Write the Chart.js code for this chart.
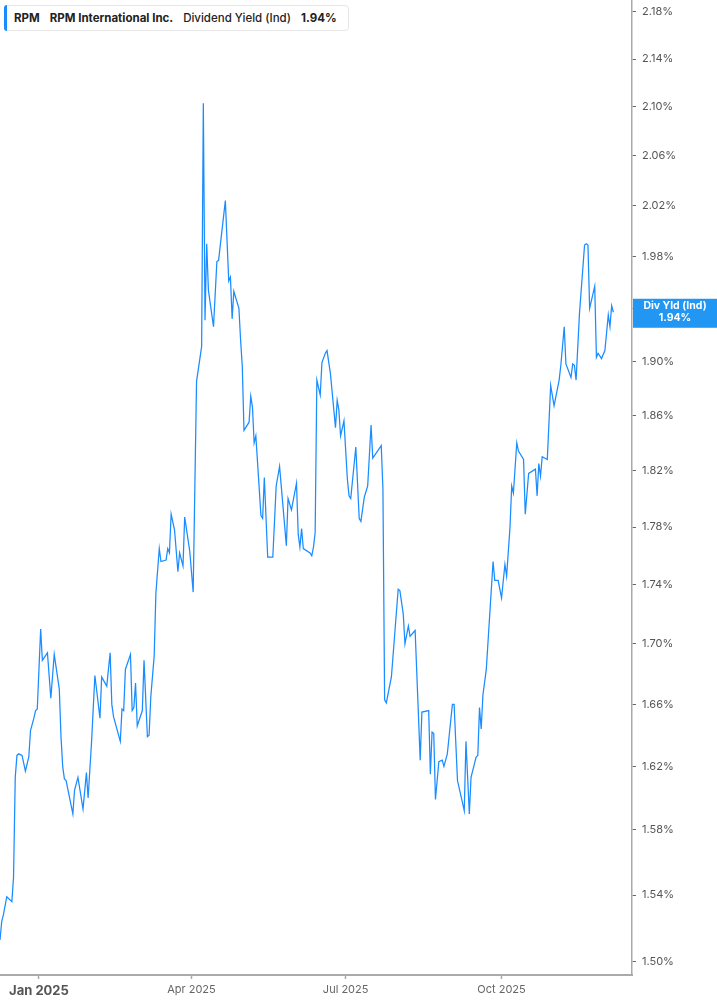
<!DOCTYPE html>
<html>
<head>
<meta charset="utf-8">
<script src="https://cdn.jsdelivr.net/npm/chart.js@4.4.1/dist/chart.umd.min.js"></script>
<style>
  html, body { margin: 0; padding: 0; background: #ffffff; }
  #wrap { position: relative; width: 717px; height: 1005px; }
  #legend {
    position: absolute; left: 4px; top: 5px; height: 26px; width: 345px;
    box-sizing: border-box; border: 1px solid #e6e6e6; border-radius: 4px;
    background: #fff; font-family: Inter, "Noto Sans", sans-serif; font-size: 11.5px;
    color: #222; display: flex; align-items: center; padding-left: 9px; white-space: nowrap;
  }
  #legend .bar { position: absolute; left: -1px; top: -1px; bottom: -1px; width: 3px; background: #1a8cff; border-radius: 3px 0 0 3px; }
  #legend span { margin-right: 10px; }
  #legend .b { font-weight: 700; }
  #legend .m { font-weight: 500; }
</style>
</head>
<body>
<div id="wrap">
  <canvas id="c" width="717" height="1005"></canvas>
  <div id="legend"></div>
</div>
<script>
const ticker = "RPM";
const companyName = "RPM International Inc.";
const metricName = "Dividend Yield (Ind)";
const axisTagName = "Div Yld (Ind)";

const dates = [
"2024-12-09","2024-12-10","2024-12-11","2024-12-13","2024-12-16","2024-12-17","2024-12-18","2024-12-19","2024-12-20","2024-12-22",
"2024-12-24","2024-12-26","2024-12-27","2024-12-29","2024-12-30","2024-12-31","2025-01-02","2025-01-03","2025-01-06","2025-01-08",
"2025-01-10","2025-01-13","2025-01-14","2025-01-15","2025-01-16","2025-01-17","2025-01-21","2025-01-22","2025-01-24","2025-01-27",
"2025-01-29","2025-01-30","2025-02-01","2025-02-03","2025-02-06","2025-02-07","2025-02-10","2025-02-12","2025-02-13","2025-02-14",
"2025-02-18","2025-02-19","2025-02-20","2025-02-21","2025-02-24","2025-02-25","2025-02-26","2025-02-27","2025-02-28","2025-03-03",
"2025-03-04","2025-03-06","2025-03-07","2025-03-08","2025-03-10","2025-03-11","2025-03-13","2025-03-14","2025-03-17","2025-03-18",
"2025-03-19","2025-03-20","2025-03-22","2025-03-24","2025-03-25","2025-03-27","2025-03-28","2025-03-31","2025-04-02","2025-04-04",
"2025-04-07","2025-04-08","2025-04-09","2025-04-10","2025-04-11","2025-04-14","2025-04-16","2025-04-17","2025-04-21","2025-04-23",
"2025-04-24","2025-04-25","2025-04-26","2025-04-29","2025-04-30","2025-05-01","2025-05-02","2025-05-05","2025-05-06","2025-05-07",
"2025-05-08","2025-05-09","2025-05-12","2025-05-13","2025-05-14","2025-05-16","2025-05-19","2025-05-21","2025-05-23","2025-05-27",
"2025-05-28","2025-05-30","2025-06-02","2025-06-03","2025-06-04","2025-06-05","2025-06-06","2025-06-10","2025-06-11","2025-06-12",
"2025-06-13","2025-06-14","2025-06-16","2025-06-17","2025-06-19","2025-06-20","2025-06-22","2025-06-25","2025-06-26","2025-06-27",
"2025-06-28","2025-06-30","2025-07-02","2025-07-03","2025-07-04","2025-07-07","2025-07-09","2025-07-10","2025-07-12","2025-07-14",
"2025-07-16","2025-07-17","2025-07-22","2025-07-23","2025-07-24","2025-07-25","2025-07-28","2025-08-01","2025-08-02","2025-08-04",
"2025-08-05","2025-08-07","2025-08-08","2025-08-11","2025-08-14","2025-08-15","2025-08-19","2025-08-20","2025-08-21","2025-08-22",
"2025-08-23","2025-08-25","2025-08-27","2025-08-28","2025-08-30","2025-09-02","2025-09-03","2025-09-05","2025-09-09","2025-09-10",
"2025-09-12","2025-09-13","2025-09-16","2025-09-17","2025-09-18","2025-09-19","2025-09-20","2025-09-22","2025-09-24","2025-09-26",
"2025-09-27","2025-09-29","2025-10-01","2025-10-03","2025-10-04","2025-10-06","2025-10-07","2025-10-08","2025-10-10","2025-10-11",
"2025-10-14","2025-10-15","2025-10-17","2025-10-21","2025-10-22","2025-10-23","2025-10-24","2025-10-25","2025-10-28","2025-10-30",
"2025-11-01","2025-11-04","2025-11-05","2025-11-07","2025-11-08","2025-11-11","2025-11-12","2025-11-13","2025-11-14","2025-11-16",
"2025-11-19","2025-11-20","2025-11-21","2025-11-22","2025-11-25","2025-11-26","2025-11-27","2025-11-29","2025-12-01","2025-12-03",
"2025-12-04","2025-12-05","2025-12-06"
];

const yields = [
1.513,1.524,1.528,1.539,1.536,1.551,1.613,1.627,1.628,1.627,
1.617,1.626,1.643,1.651,1.656,1.657,1.710,1.689,1.694,1.664,
1.693,1.670,1.639,1.620,1.612,1.611,1.590,1.605,1.613,1.593,
1.616,1.600,1.635,1.679,1.651,1.678,1.672,1.694,1.660,1.652,
1.636,1.657,1.656,1.683,1.693,1.656,1.658,1.674,1.646,1.656,
1.689,1.639,1.640,1.665,1.692,1.734,1.765,1.756,1.757,1.765,
1.762,1.789,1.778,1.749,1.762,1.753,1.787,1.763,1.735,1.885,
1.911,2.103,1.931,1.990,1.954,1.926,1.976,1.977,2.024,1.961,
1.964,1.932,1.953,1.940,1.916,1.896,1.849,1.855,1.874,1.866,
1.840,1.845,1.788,1.786,1.815,1.759,1.759,1.809,1.823,1.767,
1.800,1.792,1.811,1.775,1.766,1.779,1.765,1.762,1.760,1.766,
1.776,1.886,1.875,1.899,1.906,1.908,1.891,1.851,1.871,1.864,
1.845,1.856,1.814,1.802,1.800,1.837,1.786,1.784,1.801,1.809,
1.853,1.829,1.838,1.807,1.663,1.661,1.678,1.737,1.736,1.720,
1.700,1.712,1.705,1.709,1.624,1.655,1.656,1.615,1.642,1.641,
1.599,1.623,1.624,1.620,1.628,1.660,1.660,1.611,1.592,1.636,
1.590,1.613,1.626,1.627,1.658,1.644,1.666,1.683,1.719,1.756,
1.743,1.743,1.731,1.754,1.746,1.780,1.809,1.804,1.840,1.834,
1.828,1.789,1.818,1.821,1.802,1.825,1.816,1.830,1.828,1.882,
1.867,1.886,1.897,1.926,1.898,1.888,1.898,1.897,1.886,1.936,
1.989,1.990,1.989,1.940,1.957,1.903,1.906,1.902,1.908,1.935,
1.926,1.942,1.937
];

const yTickValues = [1.50,1.54,1.58,1.62,1.66,1.70,1.74,1.78,1.82,1.86,1.90,1.94,1.98,2.02,2.06,2.10,2.14,2.18];
const xTickDates = ["2025-01-01","2025-04-01","2025-07-01","2025-10-01"];
const xTickLabels = ["Jan 2025","Apr 2025","Jul 2025","Oct 2025"];

const baseDate = Date.UTC(2025,0,1);
function dayOf(s){ const p = s.split('-').map(Number); return (Date.UTC(p[0],p[1]-1,p[2]) - baseDate)/86400000; }

const points = dates.map((d,i) => ({x: dayOf(d), y: yields[i]}));
const xTickDays = xTickDates.map(dayOf);
const lastVal = yields[yields.length-1];
const lineColor = '#1a8cff';

document.getElementById('legend').innerHTML =
  '<div class="bar"></div>' +
  '<span class="b">' + ticker + '</span>' +
  '<span class="b">' + companyName + '</span>' +
  '<span class="m">' + metricName + '</span>' +
  '<span class="b">' + lastVal.toFixed(2) + '%</span>';

const tagPlugin = {
  id: 'tag',
  afterDraw(chart) {
    const ctx = chart.ctx;
    const ys = chart.scales.y;
    const py = ys.getPixelForValue(lastVal) + 1;
    const x0 = chart.chartArea.right + 1;
    const w = chart.width - x0;
    const h = 29;
    ctx.save();
    ctx.fillStyle = '#2196f3';
    ctx.fillRect(x0, py - h/2, w, h);
    ctx.fillStyle = '#ffffff';
    ctx.font = 'bold 10.5px Inter, "Noto Sans", sans-serif';
    ctx.textAlign = 'center';
    ctx.textBaseline = 'middle';
    ctx.fillText(axisTagName, x0 + w/2, py - 7);
    ctx.fillText(lastVal.toFixed(2) + '%', x0 + w/2, py + 5);
    ctx.restore();
  }
};

new Chart(document.getElementById('c'), {
  type: 'line',
  data: {
    datasets: [{
      data: points,
      borderColor: lineColor,
      borderWidth: 1.25,
      pointRadius: 0,
      tension: 0,
      fill: false
    }]
  },
  options: {
    responsive: false,
    animation: false,
    devicePixelRatio: 1,
    layout: { padding: 0 },
    plugins: { legend: { display: false }, tooltip: { enabled: false } },
    scales: {
      x: {
        type: 'linear',
        position: 'bottom',
        min: -23,
        max: 350,
        bounds: 'data',
        afterBuildTicks: (s) => { s.ticks = xTickDays.map(v => ({value: v})); },
        afterFit: (s) => { s.height = 30; s.paddingLeft = 0; s.paddingRight = 0; s.paddingTop = 0; s.paddingBottom = 0; },
        grid: { drawOnChartArea: false, drawTicks: true, tickLength: 4, tickColor: '#aaaaaa', tickWidth: 1.5 },
        border: { display: true, color: '#aaaaaa', width: 2 },
        ticks: {
          autoSkip: false,
          maxRotation: 0,
          padding: 4,
          color: (c) => (c.tick && c.tick.value === xTickDays[0]) ? '#555555' : '#666666',
          font: (c) => (c.tick && c.tick.value === xTickDays[0])
            ? { family: 'Inter, "Noto Sans", sans-serif', size: 13, weight: 'bold' }
            : { family: 'Inter, "Noto Sans", sans-serif', size: 11, weight: 'normal' },
          callback: (v) => { const i = xTickDays.indexOf(v); return i >= 0 ? xTickLabels[i] : ''; }
        }
      },
      y: {
        type: 'logarithmic',
        position: 'right',
        min: 1.4923,
        max: 2.1903,
        bounds: 'data',
        afterBuildTicks: (s) => { s.ticks = yTickValues.map(v => ({value: v})); },
        afterFit: (s) => { s.width = 85; s.paddingTop = 0; s.paddingBottom = 0; s.paddingLeft = 0; s.paddingRight = 0; },
        grid: { drawOnChartArea: false, drawTicks: true, tickLength: 4, tickColor: '#666666', tickWidth: 1 },
        border: { display: true, color: '#aaaaaa', width: 1.5 },
        ticks: {
          autoSkip: false,
          padding: 6,
          color: '#555555',
          font: { family: 'Inter, "Noto Sans", sans-serif', size: 11 },
          callback: (v) => Number(v).toFixed(2) + '%'
        }
      }
    }
  },
  plugins: [tagPlugin]
});
</script>
</body>
</html>
